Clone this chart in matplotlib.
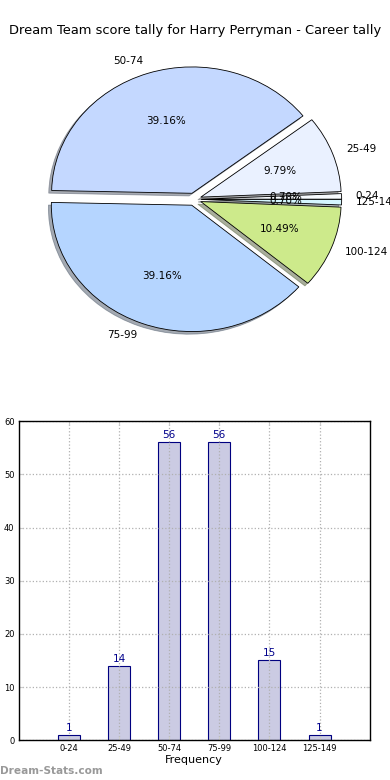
import matplotlib

matplotlib.use("Agg")
import matplotlib.pyplot as plt
import numpy as np

# score bands and how often each was hit
bands = ["0-24", "25-49", "50-74", "75-99", "100-124", "125-149"]
counts = [1, 14, 56, 56, 15, 1]
pie_colors = ["#f7fbff", "#eaf1ff", "#c4d8ff", "#b5d5ff", "#cdea8b", "#d5f6ff"]

TITLE = "Dream Team score tally for Harry Perryman - Career tally"
NARROW = ["Liberation Sans Narrow", "DejaVu Sans"]

fig = plt.figure(figsize=(3.9, 7.8), dpi=100)

# ---- pie (top) ----
ax_pie = fig.add_axes([0.048, 0.542, 0.9, 0.405])
wedges, texts, autotexts = ax_pie.pie(
    counts, labels=bands, colors=pie_colors, explode=[0.05] * len(counts),
    autopct="%.2f%%", shadow={"ox": -0.015, "oy": -0.015, "shade": 0.6},
    startangle=0, counterclock=True,
    wedgeprops={"edgecolor": "black", "linewidth": 0.6},
    textprops={"fontsize": 7.5})
ax_pie.set_aspect("auto")
ax_pie.set_xlim(-1.25, 1.25)
ax_pie.set_ylim(-1.25, 1.25)
fig.text(0.5, 0.961, TITLE, ha="center", va="center", fontsize=9.4)

# ---- bars (bottom) ----
ax_bar = fig.add_axes([0.048, 0.051, 0.9, 0.409])
x = np.arange(len(bands))
ax_bar.bar(x, counts, width=0.44, color="#cbcbe3", edgecolor="#000080",
           linewidth=0.8, zorder=2)
for xi, c in zip(x, counts):
    ax_bar.text(xi, c + 0.4, str(c), ha="center", va="bottom",
                fontsize=7.5, color="#00008b", zorder=4)
ax_bar.set_xlim(-1, 6)
ax_bar.set_ylim(0, 60)
ax_bar.set_xticks(x)
ax_bar.set_xticklabels(bands, family=NARROW, fontsize=6)
ax_bar.set_yticks(np.arange(0, 61, 10))
ax_bar.set_yticklabels([str(v) for v in range(0, 61, 10)], family=NARROW, fontsize=6)
ax_bar.tick_params(direction="in", top=True, right=True, length=3,
                   color="#cccccc", pad=3)
ax_bar.grid(True, linestyle=":", color="#b0b0b0", linewidth=0.9, zorder=3)
ax_bar.set_axisbelow(False)
ax_bar.set_xlabel("Frequency", fontsize=8, labelpad=1)
for s in ax_bar.spines.values():
    s.set_linewidth(1.0)
    s.set_zorder(6)

fig.text(0.0, 0.012, "Dream-Stats.com", ha="left", va="center",
         fontsize=7.6, color="#999999", fontweight="bold")

fig.savefig("out.png", dpi=100)
